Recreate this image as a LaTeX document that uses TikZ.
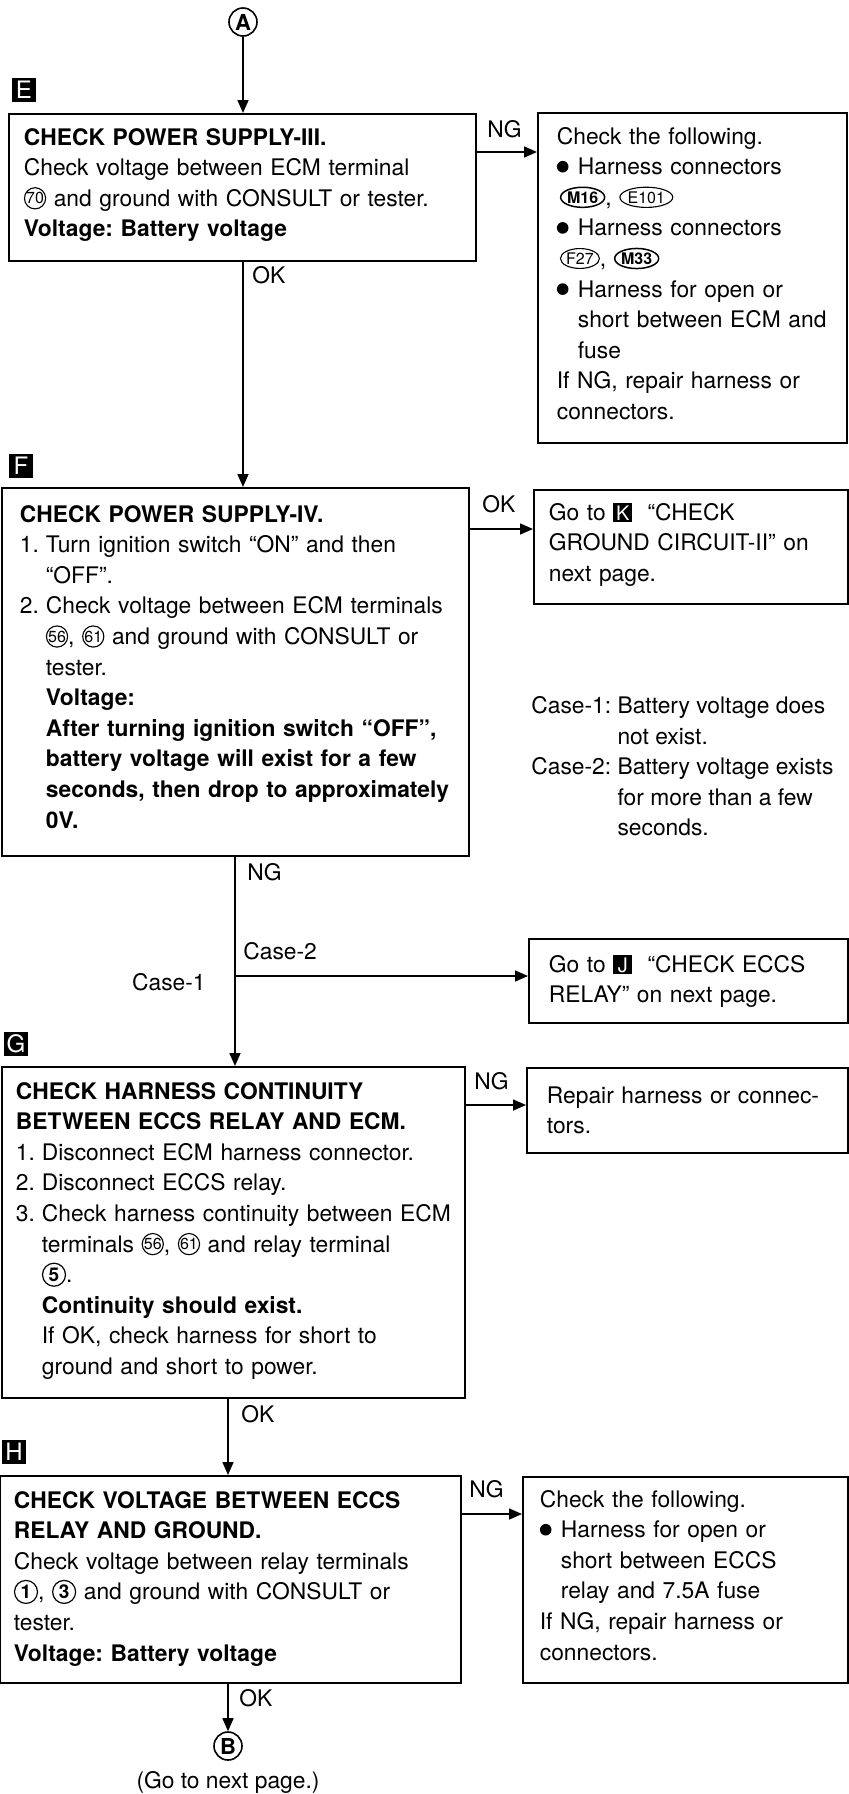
\documentclass[tikz,border=0pt]{standalone}
\usepackage{fontspec}
\setmainfont{TeX Gyre Heros}
\usetikzlibrary{arrows.meta,positioning,shapes.geometric}
\frenchspacing

\tikzset{
  inl/.style={anchor=center, text width={}, text height={}, text depth={}, align=center,
    minimum width=0pt, minimum height=0pt, draw=none, fill=none, text=black, inner sep=0pt},
  box/.style={draw, line width=0.9pt, anchor=north west, align=left, text height=8.2pt},
  lbl/.style={inner sep=0pt},
  steptag/.style={fill=black, text=white, minimum size=12pt, inner sep=0pt,
    font=\fontsize{12}{12}\selectfont},
  joint/.style={circle, draw, line width=0.8pt, minimum size=14pt, inner sep=0pt,
    font=\fontsize{11}{11}\selectfont\bfseries}
}

% small marks used inside the boxes
\newcommand{\term}[1]{\tikz[baseline=-4pt]\node[inl, circle, draw, line width=0.55pt,
  minimum size=10.5pt, font=\fontsize{8}{8}\selectfont] (tm) {#1};}
\newcommand{\termb}[1]{\tikz[baseline=-4pt]\node[inl, circle, draw, line width=0.6pt,
  minimum size=11.5pt, font=\fontsize{9.5}{9.5}\selectfont\bfseries] (tb) {#1};}
\newcommand{\conn}[1]{\tikz[baseline=-4pt]\node[inl, ellipse, draw, line width=0.55pt,
  inner xsep=0pt, inner ysep=0.6pt, font=\fontsize{8}{8}\selectfont] (cn) {#1};}
\newcommand{\connb}[1]{\tikz[baseline=-4pt]\node[inl, ellipse, draw, line width=0.75pt,
  inner xsep=0pt, inner ysep=0.6pt, font=\fontsize{8}{8}\selectfont\bfseries] (cb) {#1};}
\newcommand{\taginl}[1]{\tikz[baseline=-3.6pt]\node[inl, fill=black, text=white,
  minimum size=9.5pt, font=\fontsize{10}{10}\selectfont] (tg) {#1};}
\newcommand{\bul}{\makebox[10.5pt][l]{\tikz[baseline=-4pt]\fill (0,0) circle (2.9pt);}}
\newcommand{\bind}{\hspace*{10.5pt}}
\newcommand{\itm}[1]{\makebox[13pt][l]{#1}}
\newcommand{\ind}{\hspace*{13pt}}

\begin{document}
\begin{tikzpicture}[x=0.5pt, y=-0.5pt, >={Triangle[length=6.5pt,width=5.5pt]},
  every node/.style={font=\fontsize{11.4}{15.3}\selectfont}]
\useasboundingbox (0,0) rectangle (848,1794);

% step E
\node[joint] (a) at (243,22) {A};
\node[steptag] (te) at (24,90) {E};
\node[box, inner xsep=7.5pt, inner ysep=7.4pt, text width=218.5pt, text depth=50.5pt] (eb) at (8,113)
  {\textbf{CHECK POWER SUPPLY-III.}\\
   Check voltage between ECM terminal\\
   \term{70} and ground with CONSULT or tester.\\
   \textbf{Voltage: Battery voltage}};
\node[box, inner xsep=9.5pt, inner ysep=7.4pt, text width=135.5pt, text depth=142pt] (ebng) at (537,112)
  {Check the following.\\
   \bul Harness connectors\\
   \hspace*{1.5pt}\connb{M16}, \conn{E101}\\
   \bul Harness connectors\\
   \hspace*{1.5pt}\conn{F27}, \connb{M33}\\
   \bul Harness for open or\\
   \bind short between ECM and\\
   \bind fuse\\
   If NG, repair harness or\\
   connectors.};
\node[lbl, anchor=west] (ng1) at (487,129) {NG};
\node[lbl, anchor=west] (ok1) at (252,275) {OK};

% step F
\node[steptag] (tf) at (21,466) {F};
\node[box, inner xsep=9pt, inner ysep=8.9pt, text width=215.5pt, text depth=158pt] (fb) at (1,487)
  {\textbf{CHECK POWER SUPPLY-IV.}\\
   \itm{1.}Turn ignition switch “ON” and then\\
   \ind “OFF”.\\
   \itm{2.}Check voltage between ECM terminals\\
   \ind\term{56}, \term{61} and ground with CONSULT or\\
   \ind tester.\\
   \ind\textbf{Voltage:}\\
   \ind\textbf{After turning ignition switch “OFF”,}\\
   \ind\textbf{battery voltage will exist for a few}\\
   \ind\textbf{seconds, then drop to approximately}\\
   \ind\textbf{0V.}};
\node[box, inner xsep=7.5pt, inner ysep=6.9pt, text width=142pt, text depth=35pt] (okb) at (533,489)
  {Go to \taginl{K}\ \ “CHECK\\
   GROUND CIRCUIT-II” on\\
   next page.};
\node[lbl, anchor=west] (ok2) at (482,504) {OK};
\node[lbl, anchor=north west, align=left] (cases) at (531,696)
  {Case-1: Battery voltage does\\
   \phantom{Case-1: }not exist.\\
   Case-2: Battery voltage exists\\
   \phantom{Case-2: }for more than a few\\
   \phantom{Case-2: }seconds.};
\node[lbl, anchor=west] (ng2) at (247,872) {NG};
\node[lbl, anchor=west] (c2) at (243,951) {Case-2};
\node[lbl, anchor=east] (c1) at (206,982) {Case-1};
\node[box, inner xsep=10pt, inner ysep=8.4pt, text width=139.5pt, text depth=17pt] (jb) at (528,938)
  {Go to \taginl{J}\ \ “CHECK ECCS\\
   RELAY” on next page.};

% step G
\node[steptag] (tgg) at (16,1044) {G};
\node[box, inner xsep=7pt, inner ysep=7.9pt, text width=217.5pt, text depth=141.5pt] (gb) at (1,1066)
  {\textbf{CHECK HARNESS CONTINUITY}\\
   \textbf{BETWEEN ECCS RELAY AND ECM.}\\
   \itm{1.}Disconnect ECM harness connector.\\
   \itm{2.}Disconnect ECCS relay.\\
   \itm{3.}Check harness continuity between ECM\\
   \ind terminals \term{56}, \term{61} and relay terminal\\
   \ind\termb{5}.\\
   \ind\textbf{Continuity should exist.}\\
   \ind If OK, check harness for short to\\
   \ind ground and short to power.};
\node[box, inner xsep=10pt, inner ysep=9.5pt, text width=140.5pt, text depth=15.3pt] (rb) at (526,1067)
  {Repair harness or connec-\\
   tors.};
\node[lbl, anchor=west] (ng3) at (474,1081) {NG};
\node[lbl, anchor=west] (ok3) at (241,1414) {OK};

% step H
\node[steptag] (th) at (14,1452) {H};
\node[box, inner xsep=7pt, inner ysep=7.9pt, text width=216.5pt, text depth=79.5pt] (hb) at (-1,1475)
  {\textbf{CHECK VOLTAGE BETWEEN ECCS}\\
   \textbf{RELAY AND GROUND.}\\
   Check voltage between relay terminals\\
   \termb{1}, \termb{3} and ground with CONSULT or\\
   tester.\\
   \textbf{Voltage: Battery voltage}};
\node[box, inner xsep=8.5pt, inner ysep=6.9pt, text width=145.5pt, text depth=81pt] (hbng) at (522,1476)
  {Check the following.\\
   \bul Harness for open or\\
   \bind short between ECCS\\
   \bind relay and 7.5A fuse\\
   If NG, repair harness or\\
   connectors.};
\node[lbl, anchor=west] (ng4) at (469,1489) {NG};
\node[lbl, anchor=west] (ok4) at (239,1698) {OK};
\node[joint] (b) at (228,1746) {B};
\node[lbl] (gonext) at (228,1782) {(Go to next page.)};

% connectors
\coordinate (split) at (235,976);
\begin{scope}[line width=0.8pt]
\draw[->] (a) -- (a |- eb.north);
\draw[->] ([yshift=-19.5pt]eb.north east) -- ([yshift=-19.5pt]eb.north east -| ebng.west);
\draw[->] (a |- eb.south) -- (a |- fb.north);
\draw[->] ([yshift=-21pt]fb.north east) -- ([yshift=-21pt]fb.north east -| okb.west);
\draw (split |- fb.south) -- (split);
\draw[->] (split) -- (split -| jb.west);
\draw[->] (split) -- (split |- gb.north);
\draw[->] ([yshift=-19.5pt]gb.north east) -- ([yshift=-19.5pt]gb.north east -| rb.west);
\draw[->] (b |- gb.south) -- (b |- hb.north);
\draw[->] ([yshift=-19.5pt]hb.north east) -- ([yshift=-19.5pt]hb.north east -| hbng.west);
\draw[->] (b |- hb.south) -- (b);
\end{scope}
\end{tikzpicture}
\end{document}
